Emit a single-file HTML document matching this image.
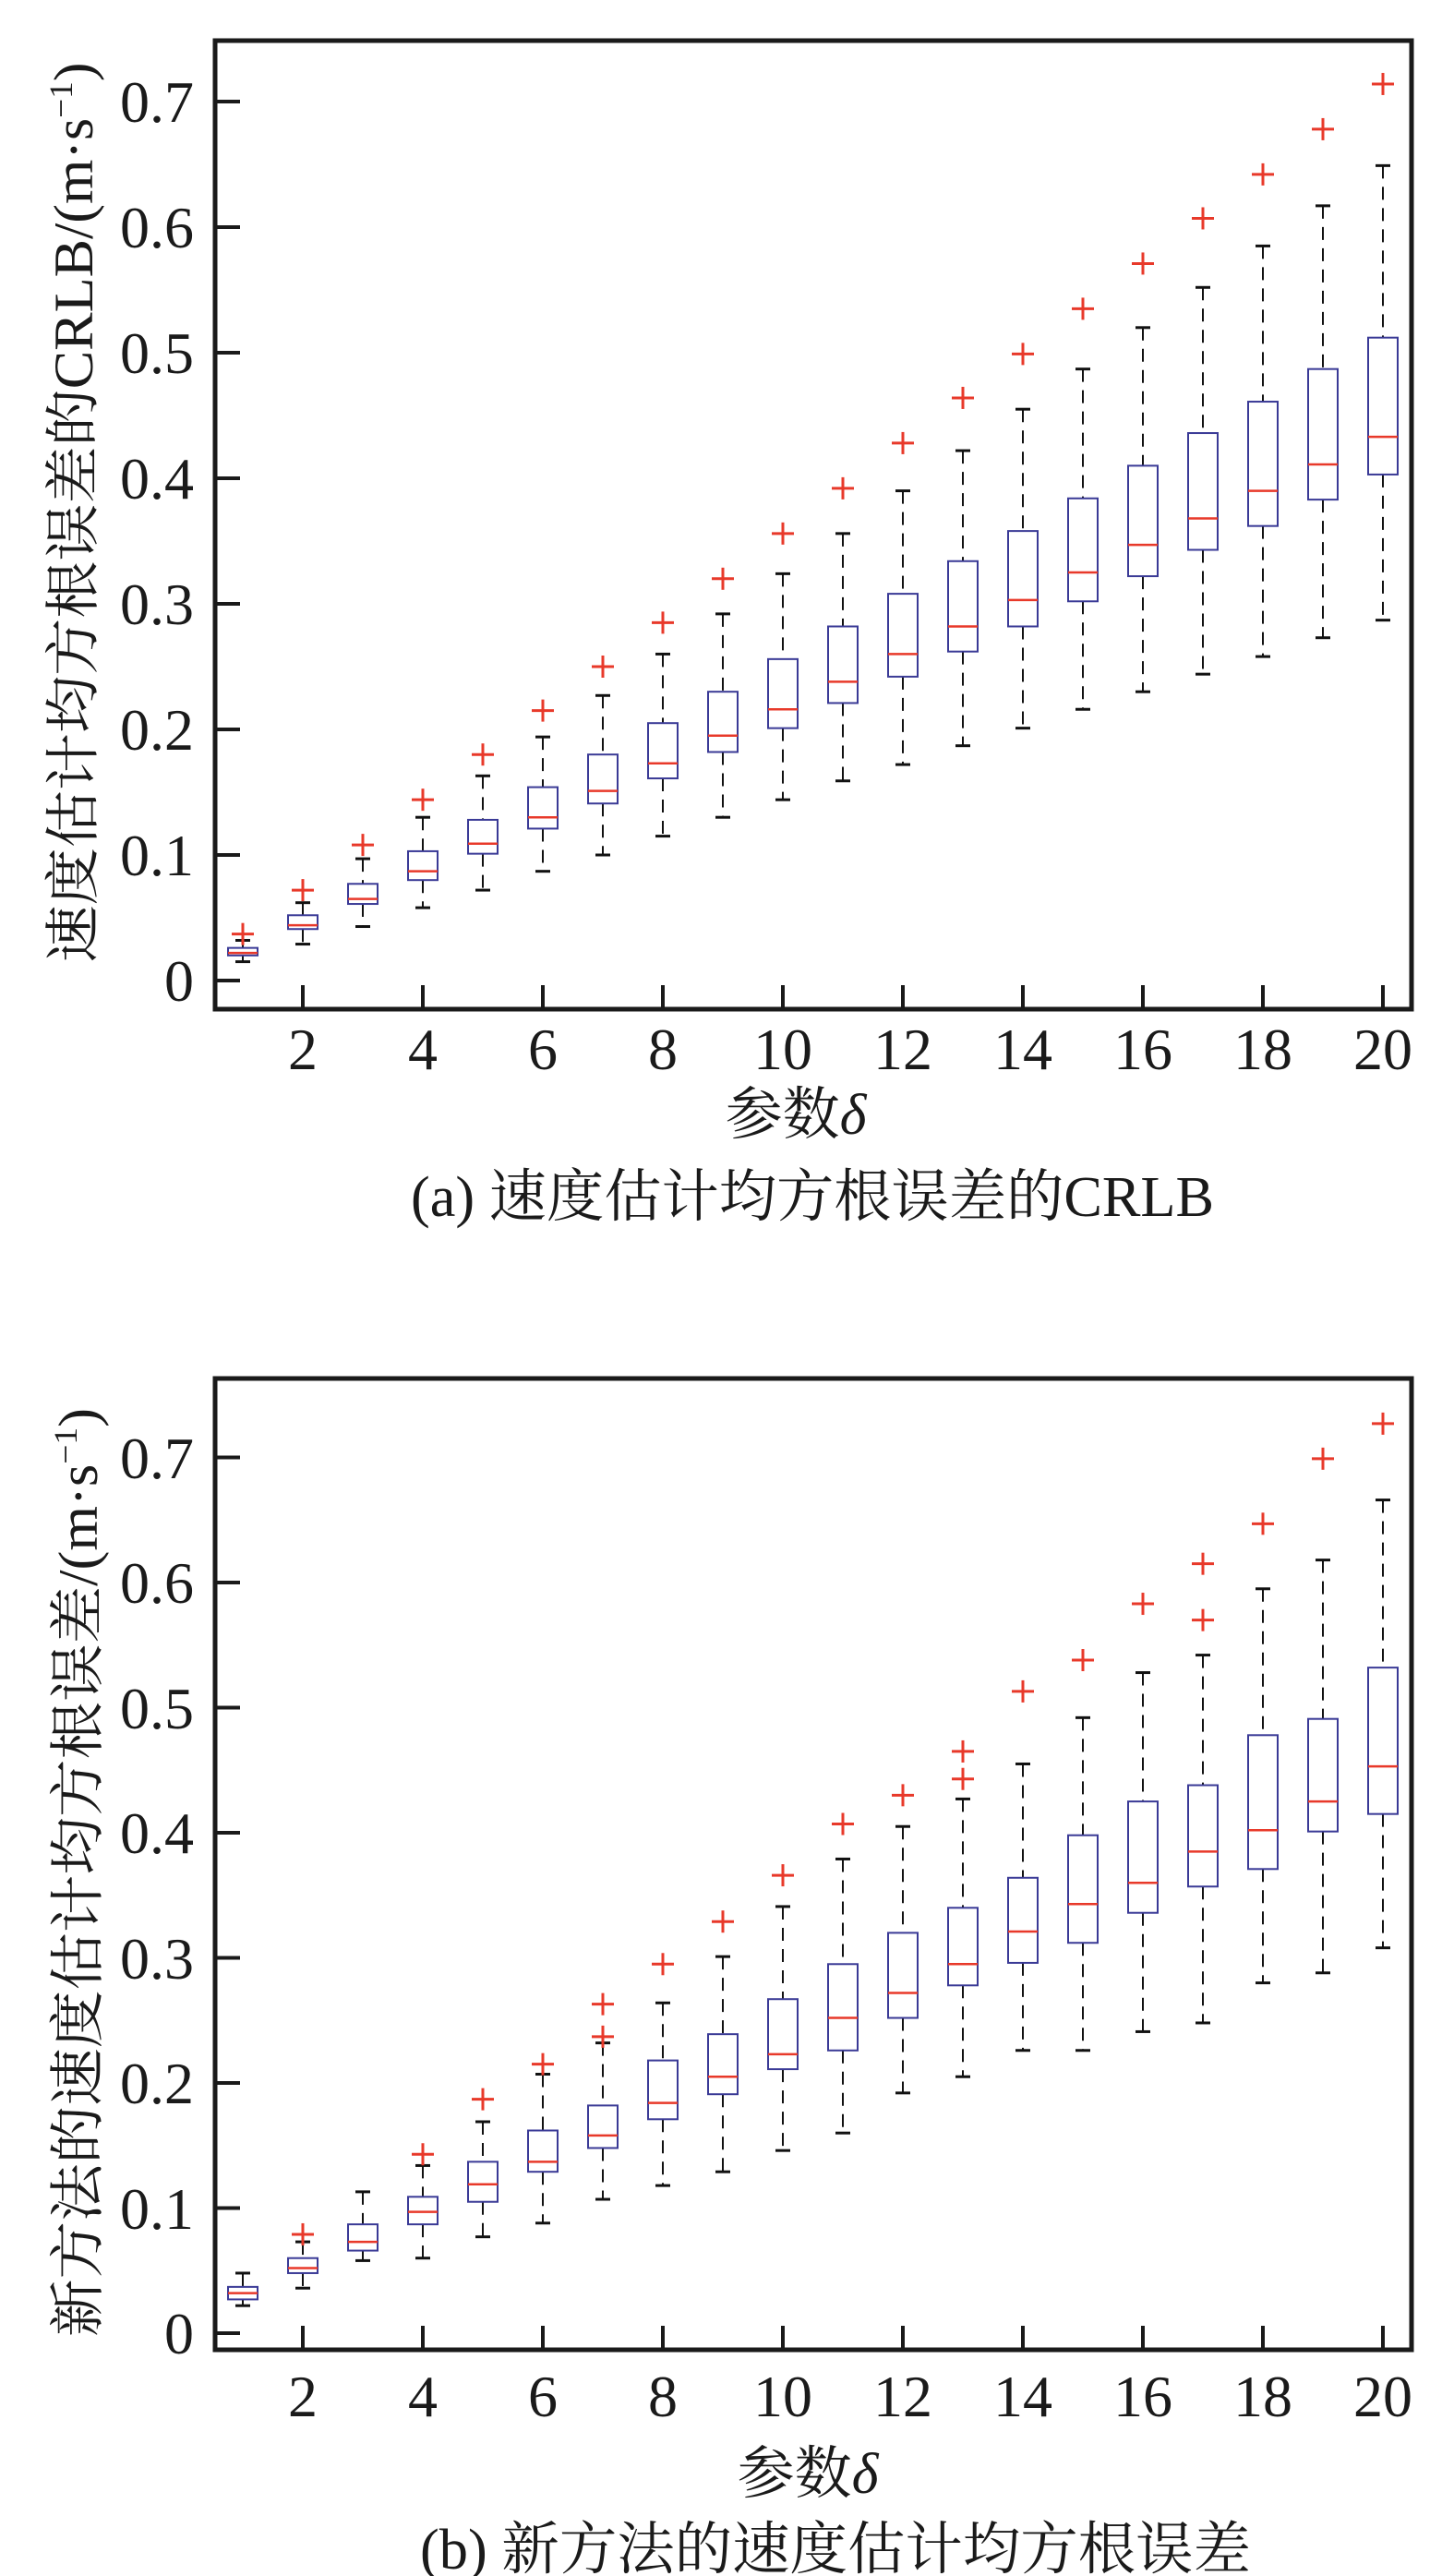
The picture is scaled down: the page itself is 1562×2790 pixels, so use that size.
<!DOCTYPE html>
<html><head><meta charset="utf-8"><style>
html,body{margin:0;padding:0;background:#fff;}
svg{display:block;}
text{font-family:"Liberation Serif","Noto Serif CJK SC",serif;fill:#1a1a1a;}
</style></head><body>
<svg id="s" width="1562" height="2790" viewBox="0 0 1562 2790" xmlns="http://www.w3.org/2000/svg">
<rect width="1562" height="2790" fill="#fff"/>
<g id="g"></g>
<!-- Chart a text -->
<g font-size="64" text-anchor="end">
<text x="210" y="1084">0</text><text x="210" y="948">0.1</text><text x="210" y="812">0.2</text><text x="210" y="676">0.3</text><text x="210" y="540">0.4</text><text x="210" y="404">0.5</text><text x="210" y="268">0.6</text><text x="210" y="132">0.7</text>
</g>
<g font-size="64" text-anchor="middle">
<text x="328" y="1158">2</text><text x="458" y="1158">4</text><text x="588" y="1158">6</text><text x="718" y="1158">8</text><text x="848" y="1158">10</text><text x="978" y="1158">12</text><text x="1108" y="1158">14</text><text x="1238" y="1158">16</text><text x="1368" y="1158">18</text><text x="1498" y="1158">20</text>
</g>
<text x="862" y="1228" font-size="62" text-anchor="middle">参数<tspan font-style="italic">δ</tspan></text>
<text x="880" y="1317" font-size="62" text-anchor="middle" textLength="870" lengthAdjust="spacingAndGlyphs">(a) 速度估计均方根误差的CRLB</text>
<text transform="translate(100,555) rotate(-90)" font-size="60" text-anchor="middle" textLength="975" lengthAdjust="spacingAndGlyphs">速度估计均方根误差的CRLB/(m·s<tspan font-size="36" dy="-22">−1</tspan><tspan dy="22">)</tspan></text>
<!-- Chart b text -->
<g font-size="64" text-anchor="end">
<text x="210" y="2549">0</text><text x="210" y="2414">0.1</text><text x="210" y="2278">0.2</text><text x="210" y="2143">0.3</text><text x="210" y="2007">0.4</text><text x="210" y="1872">0.5</text><text x="210" y="1736">0.6</text><text x="210" y="1601">0.7</text>
</g>
<g font-size="64" text-anchor="middle">
<text x="328" y="2617">2</text><text x="458" y="2617">4</text><text x="588" y="2617">6</text><text x="718" y="2617">8</text><text x="848" y="2617">10</text><text x="978" y="2617">12</text><text x="1108" y="2617">14</text><text x="1238" y="2617">16</text><text x="1368" y="2617">18</text><text x="1498" y="2617">20</text>
</g>
<text x="875" y="2700" font-size="62" text-anchor="middle">参数<tspan font-style="italic">δ</tspan></text>
<text x="905" y="2782" font-size="62" text-anchor="middle" textLength="900" lengthAdjust="spacingAndGlyphs">(b) 新方法的速度估计均方根误差</text>
<text transform="translate(105,2028) rotate(-90)" font-size="60" text-anchor="middle" textLength="1006" lengthAdjust="spacingAndGlyphs">新方法的速度估计均方根误差/(m·s<tspan font-size="36" dy="-22">−1</tspan><tspan dy="22">)</tspan></text>
</svg>
<script>
(function(){
var g=document.getElementById('g'),NS='http://www.w3.org/2000/svg';
function el(t,a){var e=document.createElementNS(NS,t);for(var k in a)e.setAttribute(k,a[k]);g.appendChild(e);return e;}
function X(i){return 263+(i-1)*65;}
var A=[[.015,.020,.022,.026,.032,[.037]],[.029,.041,.044,.052,.062,[.072]],[.043,.061,.065,.077,.097,[.108]],[.058,.080,.087,.103,.13,[.144]],[.072,.101,.109,.128,.163,[.18]],[.087,.121,.130,.154,.194,[.215]],[.10,.141,.151,.18,.227,[.25]],[.115,.161,.173,.205,.26,[.285]],[.13,.182,.195,.23,.292,[.32]],[.144,.201,.216,.256,.324,[.356]],[.159,.221,.238,.282,.356,[.392]],[.172,.242,.26,.308,.39,[.428]],[.187,.262,.282,.334,.422,[.464]],[.201,.282,.303,.358,.455,[.499]],[.216,.302,.325,.384,.487,[.535]],[.23,.322,.347,.41,.52,[.571]],[.244,.343,.368,.436,.552,[.607]],[.258,.362,.39,.461,.585,[.642]],[.273,.383,.411,.487,.617,[.678]],[.287,.403,.433,.512,.649,[.714]]];
var B=[[.022,.027,.032,.037,.048,[]],[.036,.048,.052,.06,.073,[.079]],[.058,.066,.073,.087,.113,[]],[.06,.087,.097,.109,.134,[.143]],[.077,.105,.119,.137,.169,[.187]],[.088,.129,.137,.162,.207,[.215]],[.107,.148,.158,.182,.232,[.237,.263]],[.118,.171,.184,.218,.264,[.295]],[.129,.191,.205,.239,.301,[.329]],[.146,.211,.223,.267,.341,[.366]],[.16,.226,.252,.295,.379,[.407]],[.192,.252,.272,.32,.405,[.43]],[.205,.278,.295,.34,.427,[.443,.465]],[.226,.296,.321,.364,.455,[.513]],[.226,.312,.343,.398,.492,[.538]],[.241,.336,.36,.425,.528,[.583]],[.248,.357,.385,.438,.542,[.57,.615]],[.28,.371,.402,.478,.595,[.647]],[.288,.401,.425,.491,.618,[.699]],[.308,.415,.453,.532,.666,[.727]]];
function chart(D,y0,k,top,bot){
 for(var i=0;i<20;i++){var d=D[i],x=X(i+1),Y=function(v){return y0-v*k;};
  el('line',{x1:x,x2:x,y1:Y(d[4]),y2:Y(d[3]),stroke:'#111','stroke-width':2,'stroke-dasharray':'14,9'});
  el('line',{x1:x,x2:x,y1:Y(d[1]),y2:Y(d[0]),stroke:'#111','stroke-width':2,'stroke-dasharray':'14,9'});
  el('line',{x1:x-8,x2:x+8,y1:Y(d[4]),y2:Y(d[4]),stroke:'#111','stroke-width':3});
  el('line',{x1:x-8,x2:x+8,y1:Y(d[0]),y2:Y(d[0]),stroke:'#111','stroke-width':3});
  el('rect',{x:x-16,y:Y(d[3]),width:32,height:Y(d[1])-Y(d[3]),fill:'#fff',stroke:'#3a3a96','stroke-width':2});
  el('line',{x1:x-16,x2:x+16,y1:Y(d[2]),y2:Y(d[2]),stroke:'#e8392a','stroke-width':2.5});
  d[5].forEach(function(v){var y=Y(v);
   el('line',{x1:x-12,x2:x+12,y1:y,y2:y,stroke:'#e8392a','stroke-width':3});
   el('line',{x1:x,x2:x,y1:y-12,y2:y+12,stroke:'#e8392a','stroke-width':3});});
 }
 el('rect',{x:233,y:top,width:1296,height:bot-top,fill:'none',stroke:'#1a1a1a','stroke-width':5});
 for(var t=0;t<8;t++){var y=y0-t*0.1*k;el('line',{x1:233,x2:260,y1:y,y2:y,stroke:'#1a1a1a','stroke-width':4});}
 for(var j=2;j<=20;j+=2){var x=X(j);el('line',{x1:x,x2:x,y1:bot,y2:bot-26,stroke:'#1a1a1a','stroke-width':4});}
}
chart(A,1062,1360,44,1093);
chart(B,2527,1355,1493,2545);
})();
</script>
</body></html>
